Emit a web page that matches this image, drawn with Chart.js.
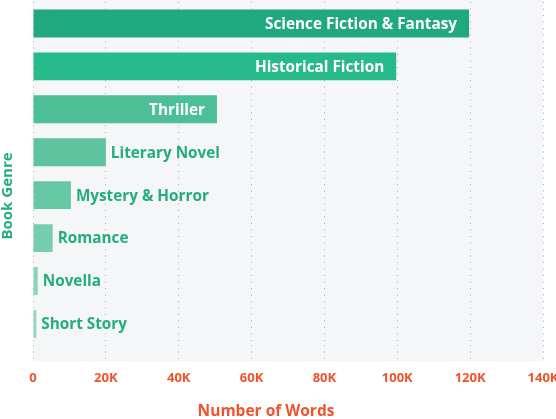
<!DOCTYPE html>
<html>
<head>
<meta charset="utf-8">
<script src="https://cdn.jsdelivr.net/npm/chart.js@4"></script>
<style>
  html, body { margin: 0; padding: 0; background: #fff; }
  #wrap { width: 556px; height: 419px; }
</style>
</head>
<body>
<div id="wrap"><canvas id="genreChart"></canvas></div>
<script>
// data
const genres = ["Science Fiction & Fantasy", "Historical Fiction", "Thriller", "Literary Novel",
                "Mystery & Horror", "Romance", "Novella", "Short Story"];
const words = [119700, 99700, 50500, 20000, 10400, 5400, 1300, 900];
const xTicks = [0, 20000, 40000, 60000, 80000, 100000, 120000, 140000];

const barColors = ["#20a97e", "#26ba8a", "#4cbf96", "#5fc3a0", "#66c7a5", "#77cdb0", "#8ad4bc", "#92d6c0"];
const green = "#22ad7f";
const red = "#f0532d";

// gray panel behind the plot
const panelBg = {
    id: "panelBg",
    beforeDraw(chart) {
        const { ctx, chartArea: a } = chart;
        ctx.save();
        ctx.fillStyle = "#f5f6f8";
        ctx.fillRect(a.left, 0, a.right - a.left, a.bottom + 16);
        ctx.restore();
    }
};

// bar labels: inside (white) when they fit, otherwise after the bar (green)
const barLabels = {
    id: "barLabels",
    afterDatasetsDraw(chart) {
        const ctx = chart.ctx;
        const meta = chart.getDatasetMeta(0);
        ctx.save();
        ctx.font = "bold 15.3px 'Open Sans'";
        ctx.textBaseline = "middle";
        meta.data.forEach((bar, i) => {
            const text = genres[i];
            const w = ctx.measureText(text).width;
            const len = bar.x - bar.base;
            if (len > w + 24) {
                ctx.fillStyle = "#ffffff";
                ctx.textAlign = "right";
                ctx.fillText(text, bar.x - 12, bar.y + 1);
            } else {
                ctx.fillStyle = green;
                ctx.textAlign = "left";
                ctx.fillText(text, bar.x + 5, bar.y + 1);
            }
        });
        ctx.restore();
    }
};

// axis titles, placed where the original has them
const axisTitles = {
    id: "axisTitles",
    afterDraw(chart) {
        const ctx = chart.ctx;
        ctx.save();
        ctx.textAlign = "center";
        ctx.textBaseline = "middle";
        ctx.font = "bold 15.5px 'Open Sans'";
        ctx.fillStyle = red;
        ctx.fillText("Number of Words", 266, 412);
        ctx.translate(8, 196);
        ctx.rotate(-Math.PI / 2);
        ctx.font = "bold 15px 'Open Sans'";
        ctx.fillStyle = green;
        ctx.fillText("Book Genre", 0, 0);
        ctx.restore();
    }
};

new Chart(document.getElementById("genreChart"), {
    type: "bar",
    data: {
        labels: genres,
        datasets: [{
            data: words,
            backgroundColor: barColors,
            borderWidth: 0,
            categoryPercentage: 1,
            barPercentage: 0.65
        }]
    },
    options: {
        indexAxis: "y",
        responsive: true,
        maintainAspectRatio: false,
        animation: false,
        layout: { padding: { top: 2, right: 13, bottom: 24, left: 0 } },
        plugins: {
            legend: { display: false },
            tooltip: { enabled: false }
        },
        scales: {
            x: {
                min: 0,
                max: 140000,
                afterBuildTicks(scale) {
                    scale.ticks = xTicks.map(v => ({ value: v }));
                },
                afterFit(scale) {
                    scale.paddingLeft = 0;
                    scale.paddingRight = 0;
                },
                grid: {
                    color: "#a9adb3",
                    lineWidth: 1,
                    drawTicks: true,
                    tickLength: 16,
                    tickColor: "#a9adb3",
                    tickBorderDash: [1, 5.5]
                },
                border: { display: false, dash: [1, 5.5] },
                ticks: {
                    color: red,
                    padding: 9,
                    maxRotation: 0,
                    font: { family: "'Open Sans'", size: 13, weight: "bold" },
                    callback: v => v === 0 ? "0" : (v / 1000) + "K"
                }
            },
            y: {
                afterFit(scale) {
                    scale.width = 33;
                },
                grid: { display: false },
                border: { display: false },
                ticks: { display: false }
            }
        }
    },
    plugins: [panelBg, barLabels, axisTitles]
});
</script>
</body>
</html>
